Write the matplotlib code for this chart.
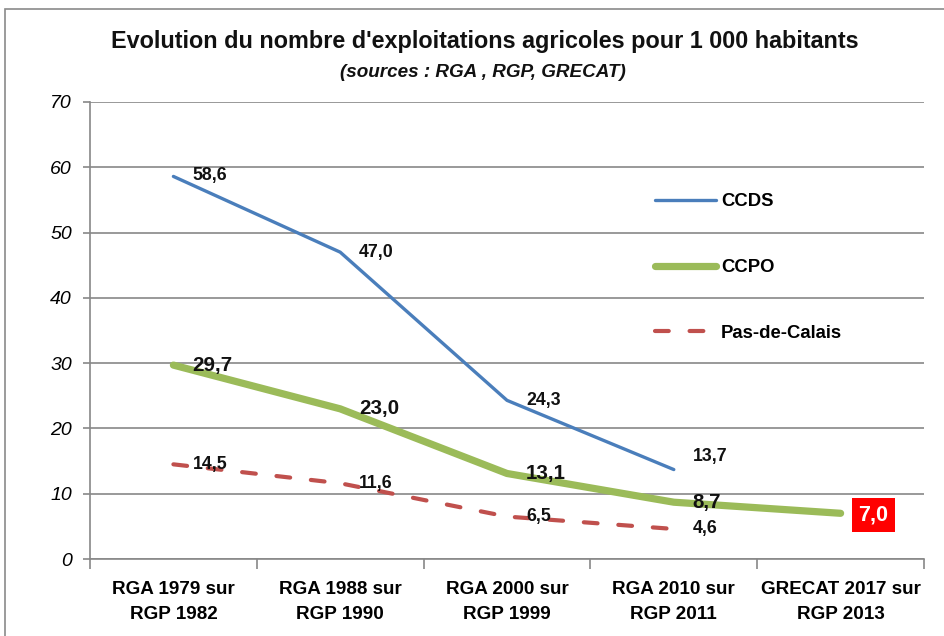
import matplotlib
matplotlib.use("Agg")
import matplotlib.pyplot as plt
from matplotlib.patches import Rectangle

plt.rcParams['font.family'] = ['Liberation Sans', 'DejaVu Sans']

categories = ["RGA 1979 sur\nRGP 1982", "RGA 1988 sur\nRGP 1990", "RGA 2000 sur\nRGP 1999",
              "RGA 2010 sur\nRGP 2011", "GRECAT 2017 sur\nRGP 2013"]
ccds = [58.6, 47.0, 24.3, 13.7]
ccpo = [29.7, 23.0, 13.1, 8.7, 7.0]
pdc = [14.5, 11.6, 6.5, 4.6]
yticks = [0, 10, 20, 30, 40, 50, 60, 70]

W, H = 945, 636
fig = plt.figure(figsize=(W / 100, H / 100), dpi=100)
ax = fig.add_axes([90 / W, 1 - 559 / H, (924 - 90) / W, (559 - 102) / H])

grid_c = '#888888'
c_ccds = '#4A7EBB'
c_ccpo = '#9BBB59'
c_pdc = '#C0504D'

x_ccds = list(range(len(ccds)))
x_ccpo = list(range(len(ccpo)))
x_pdc = list(range(len(pdc)))

ax.plot(x_ccds, ccds, color=c_ccds, lw=2.4, solid_capstyle='round', solid_joinstyle='round',
        label='CCDS', zorder=3)
ax.plot(x_ccpo, ccpo, color=c_ccpo, lw=5.2, solid_capstyle='round', solid_joinstyle='round',
        label='CCPO', zorder=3)
ax.plot(x_pdc, pdc, color=c_pdc, lw=3.0, dashes=(3.3, 5.0), dash_capstyle='round',
        label='Pas-de-Calais', zorder=3)

ax.set_xlim(-0.5, len(categories) - 0.5)
ax.set_ylim(0, 70)
ax.set_yticks(yticks)
ax.set_yticklabels([str(v) for v in yticks], fontsize=14, style='italic')
ax.yaxis.grid(True, color=grid_c, lw=1.2)
ax.set_axisbelow(True)

ax.set_xticks([i - 0.5 for i in range(len(categories) + 1)])
ax.set_xticklabels([])
ax.set_xticks(list(range(len(categories))), minor=True)
ax.set_xticklabels(categories, minor=True, fontsize=13.6, fontweight='bold', linespacing=1.6)
ax.tick_params(axis='x', which='major', length=7, color=grid_c, width=1.2)
ax.tick_params(axis='x', which='minor', length=0, pad=16)
ax.tick_params(axis='y', length=5, color=grid_c, width=1.2, pad=8)

for s in ['top', 'right']:
    ax.spines[s].set_visible(False)
for s in ['left', 'bottom']:
    ax.spines[s].set_color(grid_c)
    ax.spines[s].set_linewidth(1.2)

def label(xs, ys, fs, dy=None):
    for i, (x, y) in enumerate(zip(xs, ys)):
        oy = dy[i] if dy else 0
        ax.annotate(f"{y:.1f}".replace('.', ','), (x, y), xytext=(19, oy),
                    textcoords='offset pixels', ha='left', va='center',
                    fontsize=fs, fontweight='bold', color='#111111', zorder=4)

label(x_ccds, ccds, 12.8, dy=[1, 0, 0, 13])
label(x_ccpo[:-1], ccpo[:-1], 14.8)
label(x_pdc, pdc, 12.8)
ax.annotate(f"{ccpo[-1]:.1f}".replace('.', ','), (x_ccpo[-1], ccpo[-1]), xytext=(33, -2),
            textcoords='offset pixels', ha='center', va='center', fontsize=15.5,
            fontweight='bold', color='white', zorder=5,
            bbox=dict(boxstyle='square,pad=0.3', fc='#FF0000', ec='none'))

leg = ax.legend(loc='upper left', bbox_to_anchor=(646 / W, 1 - 184 / H),
                bbox_transform=fig.transFigure, frameon=False, fontsize=13.3,
                handlelength=3.3, handletextpad=0.25, labelspacing=2.64, borderpad=0)
for t in leg.get_texts():
    t.set_fontweight('bold')

fig.text(485 / W, 1 - 48 / H, "Evolution du nombre d'exploitations agricoles pour 1 000 habitants",
         ha='center', va='baseline', fontsize=16.8, fontweight='bold', color='#111111')
fig.text(483 / W, 1 - 77 / H, "(sources : RGA , RGP, GRECAT)",
         ha='center', va='baseline', fontsize=13.6, fontweight='bold', style='italic',
         color='#111111')

fig.patches.append(Rectangle((5 / W, -0.05), 1.2, (1 - 9 / H) + 0.05, transform=fig.transFigure,
                             fill=False, ec='#8a8a8a', lw=1.2))

fig.savefig('out.png', dpi=100)
